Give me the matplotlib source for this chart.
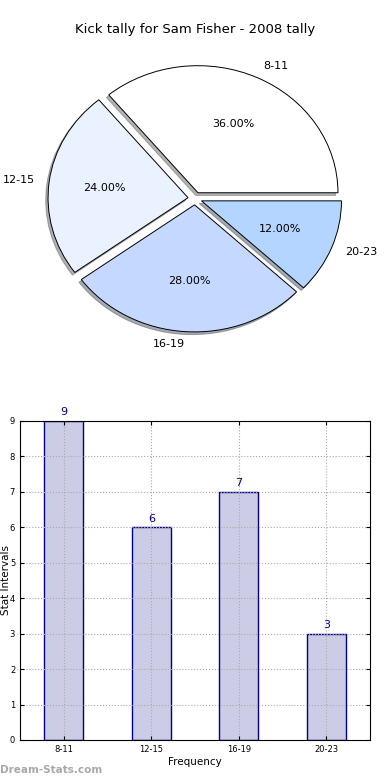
import matplotlib
matplotlib.use("Agg")
import matplotlib.pyplot as plt

# data
intervals = ["8-11", "12-15", "16-19", "20-23"]
counts = [9, 6, 7, 3]
pie_colors = ["#FFFFFF", "#EAF1FF", "#C5D8FF", "#B3D5FF"]

fig = plt.figure(figsize=(3.9, 7.8), dpi=100)

# 1. Pie
ax1 = fig.add_axes([0.0333, 0.55, 0.9333, 0.391])
wedges, texts, autotexts = ax1.pie(
    counts, labels=intervals, colors=pie_colors, explode=[0.05] * 4,
    autopct="%.2f%%", pctdistance=0.6, labeldistance=1.1,
    shadow=dict(ox=-0.012, oy=-0.015, shade=0.6),
    wedgeprops=dict(edgecolor="black", linewidth=0.7),
    textprops=dict(fontsize=8),
)
ax1.set_aspect("auto")
ax1.set_xlim(-1.3, 1.3)
ax1.set_ylim(-1.2, 1.2)
fig.text(0.5, 1 - 30 / 780, "Kick tally for Sam Fisher - 2008 tally",
         ha="center", va="center", fontsize=9.5)

# 2. Bars
ax2 = fig.add_axes([0.0513, 0.0513, 0.8974, 0.409])
x = range(len(intervals))
ax2.bar(x, counts, width=0.45, color="#CCCCE6", edgecolor="navy", linewidth=1)
for i, c in zip(x, counts):
    ax2.text(i, c + 0.1, str(c), ha="center", va="bottom", color="navy", fontsize=8)
ax2.set_xlim(-0.5, 3.5)
ax2.set_ylim(0, 9)
ax2.set_xticks(list(x))
ax2.set_xticklabels(intervals)
ax2.set_yticks(range(10))
ax2.tick_params(labelsize=6, direction="in", top=True, right=True, length=3)
ax2.grid(True, linestyle=":", color="#AAAAAA", linewidth=0.8)
ax2.set_xlabel("Frequency", fontsize=7.5, labelpad=2)
ax2.set_ylabel("Stat Intervals", fontsize=7.5)
ax2.yaxis.set_label_coords(-0.026, 0.5)

fig.text(0.0, 1 - 770 / 780, "Dream-Stats.com", ha="left", va="center",
         fontsize=7.5, color="#A8A8A8", fontweight="bold")

fig.savefig("out.png", dpi=100)
